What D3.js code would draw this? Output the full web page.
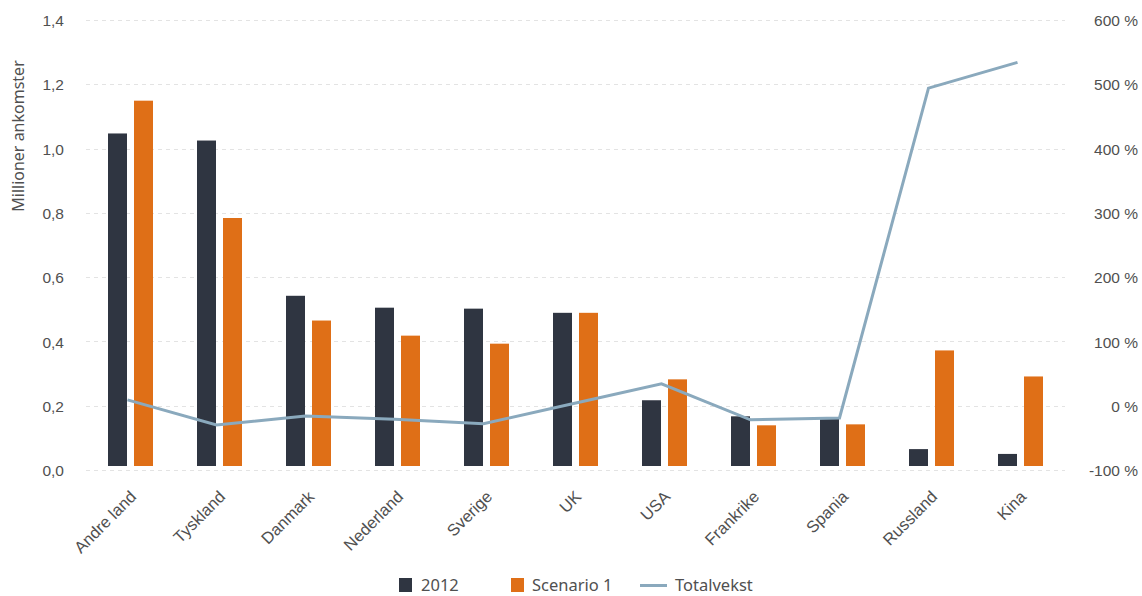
<!DOCTYPE html>
<html>
<head>
<meta charset="utf-8">
<script src="https://cdn.jsdelivr.net/npm/d3@7"></script>
<style>
  body { margin: 0; background: #fff; }
  svg { display: block; font-family: "Noto Sans", "Open Sans", sans-serif; }
</style>
</head>
<body>
<script>
// data
const countries  = ["Andre land", "Tyskland", "Danmark", "Nederland", "Sverige", "UK", "USA", "Frankrike", "Spania", "Russland", "Kina"]
const arr2012    = [1.047, 1.025, 0.542, 0.505, 0.502, 0.489, 0.217, 0.167, 0.161, 0.065, 0.050]
const scenario1  = [1.149, 0.784, 0.465, 0.418, 0.393, 0.489, 0.282, 0.139, 0.142, 0.372, 0.291]
const totalvekst = [9, -30, -16, -21, -28, 3, 34, -22, -19, 494, 534]
const leftTicks  = [0, 0.2, 0.4, 0.6, 0.8, 1.0, 1.2, 1.4]
const rightTicks = [-100, 0, 100, 200, 300, 400, 500, 600]

const width = 1142, height = 596
const margin = {top: 20, right: 77, bottom: 126, left: 86}
const barInset = 4

const svg = d3.select("body").append("svg")
    .attr("width", width)
    .attr("height", height)

const color = {
    "2012": "#2f3541",
    "Scenario 1": "#df6f17",
    "Totalvekst": "#8aa9bd"
}
const textColor = "#505050"

const x = d3.scaleBand()
    .domain(countries)
    .range([margin.left, width - margin.right])

const y = d3.scaleLinear()
    .domain([0, 1.4])
    .range([height - margin.bottom, margin.top])

const y2 = d3.scaleLinear()
    .domain([-100, 600])
    .range([height - margin.bottom, margin.top])

// gridlines
svg.append("g")
    .selectAll("line")
    .data(leftTicks)
    .enter()
    .append("line")
    .attr("x1", margin.left)
    .attr("x2", width - margin.right)
    .attr("y1", d => Math.round(y(d)) + 0.5)
    .attr("y2", d => Math.round(y(d)) + 0.5)
    .style("stroke", "#e3e3e3")
    .style("stroke-dasharray", "4,4")

// left axis
svg.append("g")
    .attr("transform", `translate(${margin.left - 22}, 0)`)
    .call(d3.axisLeft(y).tickValues(leftTicks).tickSize(0).tickPadding(0)
        .tickFormat(d => d3.format(".1f")(d).replace(".", ",")))
    .call(g => g.select(".domain").remove())
    .selectAll("text")
    .style("font-size", "15.5px")
    .style("fill", textColor)
    .attr("dy", "0.36em")

svg.append("text")
    .attr("transform", `translate(24, ${136}) rotate(-90)`)
    .style("text-anchor", "middle")
    .style("font-size", "16px")
    .style("fill", textColor)
    .text("Millioner ankomster")

// right axis
svg.append("g")
    .attr("transform", `translate(${width - 4}, 0)`)
    .call(d3.axisLeft(y2).tickValues(rightTicks).tickSize(0).tickPadding(0)
        .tickFormat(d => d + " %"))
    .call(g => g.select(".domain").remove())
    .selectAll("text")
    .style("font-size", "15.5px")
    .style("fill", textColor)
    .attr("dy", "0.36em")

// x axis labels
svg.append("g")
    .attr("transform", `translate(1, ${height - margin.bottom + 22})`)
    .call(d3.axisBottom(x).tickSize(0).tickPadding(0))
    .call(g => g.select(".domain").remove())
    .selectAll("text")
    .style("font-size", "16.5px")
    .style("fill", textColor)
    .style("text-anchor", "end")
    .attr("dy", "0.5em")
    .attr("transform", "rotate(-45)")

// bars
const barW = 19, barGap = 7
const groups = [
    {key: "2012", values: arr2012, off: -(barW + barGap / 2)},
    {key: "Scenario 1", values: scenario1, off: barGap / 2}
]
groups.forEach(s => {
    svg.append("g")
        .selectAll("rect")
        .data(s.values)
        .enter()
        .append("rect")
        .attr("x", (d, i) => x(countries[i]) + x.bandwidth() / 2 + s.off)
        .attr("y", d => y(d))
        .attr("width", barW)
        .attr("height", d => y(0) - barInset - y(d))
        .style("fill", color[s.key])
})

// line
svg.append("path")
    .datum(totalvekst)
    .attr("d", d3.line()
        .x((d, i) => x(countries[i]) + x.bandwidth() / 2 - 3)
        .y(d => y2(d)))
    .style("fill", "none")
    .style("stroke", color["Totalvekst"])
    .style("stroke-width", 3)

// legend
const legend = svg.append("g").attr("transform", "translate(0, 585)")
const legendText = (xPos, label) => legend.append("text")
    .attr("x", xPos).attr("dy", "0.36em")
    .style("font-size", "16.5px").style("fill", textColor)
    .text(label)
legend.append("rect").attr("x", 399).attr("y", -7).attr("width", 13).attr("height", 14).style("fill", color["2012"])
legendText(421, "2012")
legend.append("rect").attr("x", 511).attr("y", -7).attr("width", 13).attr("height", 14).style("fill", color["Scenario 1"])
legendText(532, "Scenario 1")
legend.append("line").attr("x1", 640).attr("x2", 667).attr("y1", 0.5).attr("y2", 0.5).style("stroke", color["Totalvekst"]).style("stroke-width", 3)
legendText(675, "Totalvekst")
</script>
</body>
</html>
